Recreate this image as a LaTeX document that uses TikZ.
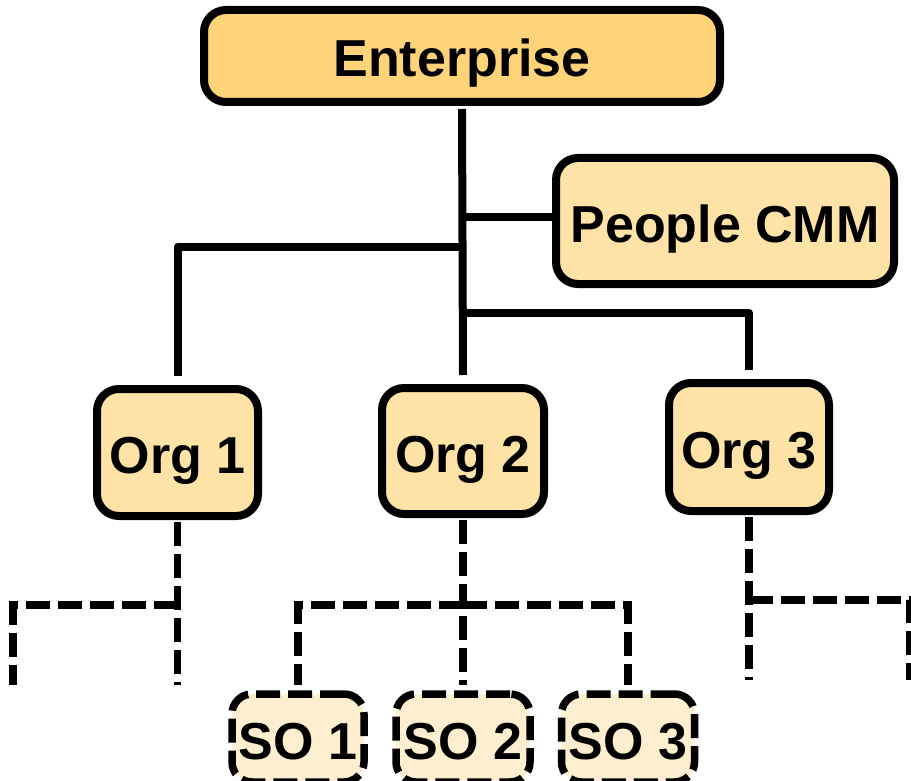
\documentclass[tikz,border=0pt]{standalone}
\usepackage{fontspec}
\setmainfont{Liberation Sans}
\begin{document}
\begin{tikzpicture}[x=1pt,y=-1pt,
  boxbase/.style={draw=black, line width=8pt, rounded corners=22pt, inner sep=0pt,
    text height=42pt, text depth=0pt, align=center,
    font=\fontsize{52}{60}\selectfont\bfseries},
  topbox/.style={boxbase, fill=entfill},
  midbox/.style={boxbase, fill=orgfill},
  subbox/.style={boxbase, fill=subfill, line width=7.5pt, dash pattern=on 24pt off 8pt, rounded corners=20pt},
  tree/.style={line width=8pt, line join=round},
  dashtree/.style={line width=7.5pt, dash pattern=on 24pt off 8pt}
]
\definecolor{entfill}{RGB}{255,212,121}
\definecolor{orgfill}{RGB}{254,226,166}
\definecolor{subfill}{RGB}{254,238,208}
\useasboundingbox (0,0) rectangle (911,781);

% boxes
\node[topbox, minimum width=516pt, minimum height=92pt] (ent) at (462,56) {Enterprise};
\node[midbox, minimum width=338pt, minimum height=126pt] (cmm) at (725,221) {People CMM};
\node[midbox, minimum width=161pt, minimum height=127pt] (org1) at (177.5,452.5) {Org 1};
\node[midbox, minimum width=162pt, minimum height=126pt] (org2) at (463,451) {Org 2};
\node[midbox, minimum width=160pt, minimum height=128pt] (org3) at (749,447) {Org 3};
\node[subbox, minimum width=132pt, minimum height=88pt] (so1) at (298,738) {SO 1};
\node[subbox, minimum width=134pt, minimum height=88pt] (so2) at (463,738) {SO 2};
\node[subbox, minimum width=133pt, minimum height=88pt] (so3) at (628,738) {SO 3};

% junction points on the trunk and free ends of the open branches
\coordinate (jcmm) at (463,217);
\coordinate (jo1) at (463,246.5);
\coordinate (jo3) at (463,313);
\coordinate (d1j) at (177.5,605);
\coordinate (d1end) at (177.5,685);
\coordinate (d1left) at (13,685);
\coordinate (d2j) at (463,605);
\coordinate (d3j) at (749,600);
\coordinate (d3end) at (749,680);
\coordinate (d3right) at (910,680);

% solid tree
\draw[tree] ([yshift=-3pt]ent.south) -- ([yshift=9pt]org2.north);
\draw[tree] (jcmm) -- (jcmm -| cmm.west);
\draw[tree] (jo1) -| ([yshift=9pt]org1.north);
\draw[tree] (jo3) -| ([yshift=9pt]org3.north);

% dashed sub-branches
\draw[dashtree] ([yshift=-2pt]org1.south) -- (d1end);
\draw[dashtree] (d1j) -| (d1left);
\draw[dashtree] ([yshift=-2pt]org2.south) -- ([yshift=5pt]so2.north);
\draw[dashtree] (d2j) -| ([yshift=5pt]so1.north);
\draw[dashtree] (d2j) -| ([yshift=5pt]so3.north);
\draw[dashtree] ([yshift=-2pt]org3.south) -- (d3end);
\draw[dashtree] (d3j) -| (d3right);
\end{tikzpicture}
\end{document}
